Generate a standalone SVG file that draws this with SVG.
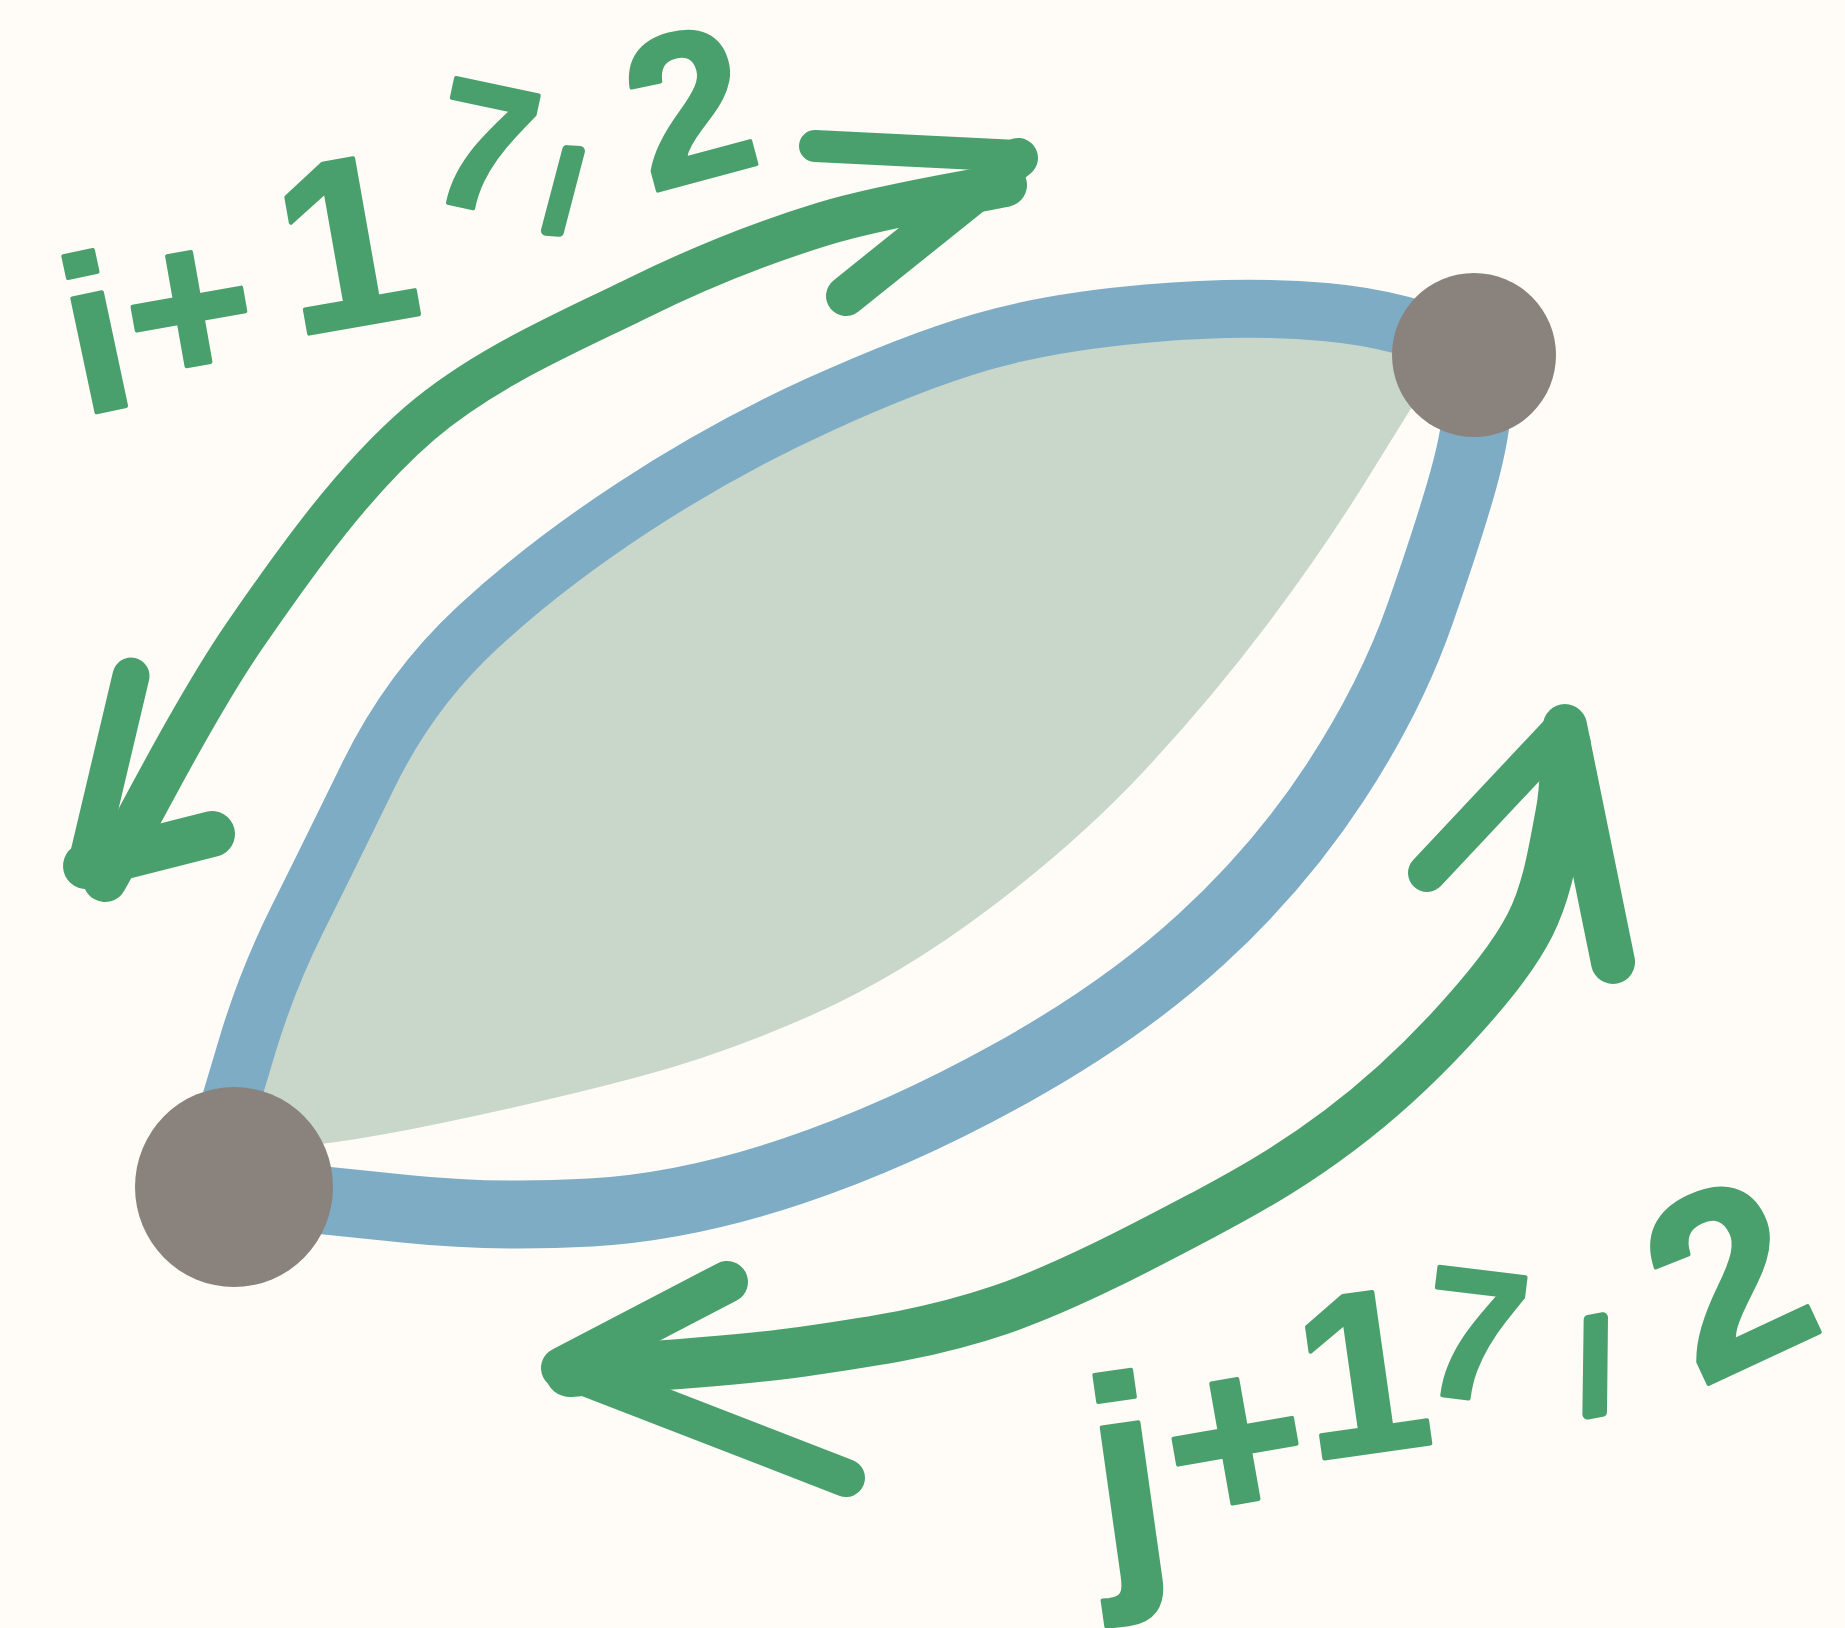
<svg xmlns="http://www.w3.org/2000/svg" width="1845" height="1628" viewBox="0 0 1845 1628">
<style>
.edge{fill:none;stroke:#7eacc5;stroke-linecap:round;stroke-linejoin:round}
.arr{fill:none;stroke:#49a06d;stroke-linecap:round;stroke-linejoin:round}
.node{fill:#8a827c}
.lbl{font-family:"Liberation Sans",Arial,sans-serif;font-weight:bold;fill:#49a06d;stroke:#49a06d;stroke-width:4;stroke-linejoin:round}
.thin{stroke-width:10}
</style>
<rect x="0" y="0" width="1845" height="1628" fill="#fffcf7"/>
<g id="region">
<path d="M 228,1110 L 247.5,1045 Q 267,980 297,920 Q 327,860 368.5,775 Q 410,690 477.5,627.5 Q 545,565 634.5,506.5 Q 724,448 818.5,405 Q 913,362 981.5,342 Q 1050,322 1147.5,313.5 Q 1245,305 1325,312 Q 1405,319 1470,350 L 1410,410 L 1368.5,477 Q 1324,549 1268,623.5 Q 1212,698 1145.5,769.5 Q 1079,841 989.5,908.5 Q 900,976 812,1015 Q 724,1054 638,1077 Q 552,1100 437,1124 Q 322,1148 250,1150 Z" fill="#c8d7ca"/>
</g>
<g id="connectors">
<path class="edge" stroke-width="58" d="M 228,1110 L 247.5,1045 Q 267,980 297,920 Q 327,860 368.5,775 Q 410,690 477.5,627.5 Q 545,565 634.5,506.5 Q 724,448 818.5,405 Q 913,362 981.5,342 Q 1050,322 1147.5,313.5 Q 1245,305 1325,312 Q 1405,319 1470,350"/>
<path class="edge" stroke-width="68" d="M 320,1200 L 407.5,1209 Q 495,1218 590.5,1212.5 Q 686,1207 793,1171 Q 900,1135 1011.5,1073 Q 1123,1011 1201.5,939 Q 1280,867 1335.5,782 Q 1391,697 1420,614 Q 1449,531 1463,481 Q 1477,431 1478,395"/>
<g id="arrow-i">
<path class="arr" stroke-width="44" d="M 1005,185 C 974.7,191.5 884.2,205.2 823,224 C 761.8,242.8 705.2,264.8 638,298 C 570.8,331.2 485.5,366.8 420,423 C 354.5,479.2 297.5,558.8 245,635 C 192.5,711.2 128.3,839.2 105,880"/>
<path class="arr" stroke-width="32" d="M 815,146 L 1018,156"/>
<path class="arr" stroke-width="40" d="M 1018,158 L 846,296"/>
<path class="arr" stroke-width="37" d="M 131,676 L 86,866"/>
<path class="arr" stroke-width="46" d="M 86,866 L 212,834"/>
</g>
<g id="arrow-j">
<path class="arr" stroke-width="50" d="M 570,1372 C 608.3,1368.7 728.3,1362.3 800,1352 C 871.7,1341.7 932.5,1333 1000,1310 C 1067.5,1287 1148.3,1244 1205,1214 C 1261.7,1184 1299.2,1160.7 1340,1130 C 1380.8,1099.3 1418.3,1064.2 1450,1030 C 1481.7,995.8 1511.7,960.7 1530,925 C 1548.3,889.3 1554,846 1560,816 C 1566,786 1565,756.8 1566,745"/>
<path class="arr" stroke-width="38" d="M 1427,873 L 1565,726"/>
<path class="arr" stroke-width="44" d="M 1565,726 L 1613,962"/>
<path class="arr" stroke-width="42" d="M 727,1282 L 562,1368"/>
<path class="arr" stroke-width="38" d="M 562,1368 L 846,1478"/>
</g>
</g>
<g id="node-1"><circle class="node" cx="1474" cy="355" r="82"/></g>
<g id="node-2"><ellipse class="node" cx="234" cy="1187" rx="99" ry="100"/></g>
<g id="labels">
<text id="label-i" class="lbl"><tspan x="81.5" y="415.5" rotate="-12" font-size="220">i</tspan><tspan x="138.2" y="392.2" rotate="-10" font-size="220">+</tspan><tspan x="294.2" y="336.2" rotate="-10" font-size="240">1</tspan><tspan x="422.7" y="197.6" rotate="12" font-size="180">7</tspan><tspan class="thin" x="544.9" y="228.4" rotate="4" font-size="110">/</tspan><tspan x="650.8" y="192.6" rotate="-15" font-size="212">2</tspan></text>
<text id="label-j" class="lbl"><tspan x="1102.8" y="1571.4" rotate="-8" font-size="270">j</tspan><tspan x="1179.7" y="1532.1" rotate="-10" font-size="240">+</tspan><tspan x="1310.1" y="1460.4" rotate="-8" font-size="230">1</tspan><tspan x="1416" y="1392" rotate="7" font-size="185">7</tspan><tspan class="thin" x="1585.7" y="1412.3" rotate="-10" font-size="125">/</tspan><tspan x="1700.4" y="1387.7" rotate="-25" font-size="255">2</tspan></text>
</g>
</svg>
